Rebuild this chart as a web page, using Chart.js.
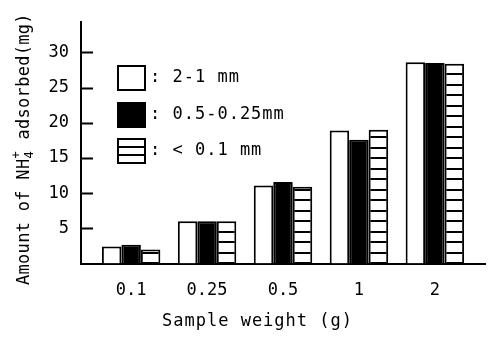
<!DOCTYPE html>
<html>
<head>
<meta charset="utf-8">
<script src="https://cdn.jsdelivr.net/npm/chart.js@4"></script>
<style>
  html, body { margin: 0; padding: 0; background: #fff; }
  #wrap { width: 489px; height: 345px; position: relative; }
</style>
</head>
<body>
<div id="wrap"><canvas id="chart"></canvas></div>
<script>
// ─── data ───────────────────────────────────────────
const categories = ['0.1', '0.25', '0.5', '1', '2'];
const seriesNames = ['2-1 mm', '0.5-0.25mm', '< 0.1 mm'];
const coarse = [2.4, 6.0, 11.1, 18.9, 28.6];   // 2-1 mm
const medium = [2.65, 6.0, 11.6, 17.6, 28.5];  // 0.5-0.25 mm
const fine   = [2.0, 6.0, 10.9, 19.0, 28.4];   // < 0.1 mm
const yTicks = [5, 10, 15, 20, 25, 30];

const FONT = "'DejaVu Sans Mono', 'Liberation Mono', monospace";

// horizontal stripe fill
function stripes() {
  const c = document.createElement('canvas');
  c.width = 8; c.height = 21;
  const g = c.getContext('2d');
  g.fillStyle = '#fff'; g.fillRect(0, 0, 8, 21);
  g.fillStyle = '#000';
  g.fillRect(0, 0, 8, 2);
  g.fillRect(0, 10, 8, 2);
  return g.createPattern(c, 'repeat');
}
const stripeFill = stripes();

const toPts = arr => arr.map((v, i) => ({ x: i, y: v }));

// ─── extras: inner ticks, axis titles, legend ──────
const extras = {
  id: 'extras',
  afterDraw(chart) {
    const ctx = chart.ctx;
    const ys = chart.scales.y;
    const left = chart.chartArea.left;
    ctx.save();
    ctx.strokeStyle = '#000';
    ctx.lineWidth = 2;
    yTicks.forEach(v => {
      const py = Math.round(ys.getPixelForValue(v)) + 0.5;
      ctx.beginPath();
      ctx.moveTo(left, py);
      ctx.lineTo(left + 12, py);
      ctx.stroke();
    });

    ctx.fillStyle = '#000';
    ctx.textBaseline = 'middle';
    ctx.textAlign = 'left';

    // x title
    ctx.letterSpacing = '1px';
    ctx.font = '17px ' + FONT;
    ctx.fillText('Sample weight (g)', 162, 322);

    // y title with NH4+
    ctx.save();
    ctx.letterSpacing = '0.3px';
    ctx.translate(25, 285);
    ctx.rotate(-Math.PI / 2);
    ctx.font = '17px ' + FONT;
    const a = 'Amount of NH';
    ctx.fillText(a, 0, 0);
    let w = ctx.measureText(a).width;
    ctx.font = '12px ' + FONT;
    ctx.fillText('4', w, 5);
    ctx.fillText('+', w, -8);
    w += ctx.measureText('4').width + 1;
    ctx.font = '17px ' + FONT;
    ctx.fillText(' adsorbed(mg)', w, 0);
    ctx.restore();

    // legend
    ctx.letterSpacing = '1px';
    const boxes = [66, 103, 139];
    ctx.lineWidth = 2;
    boxes.forEach((by, i) => {
      const bx = 118, bw = 27, bh = 24;
      ctx.fillStyle = i === 1 ? '#000' : '#fff';
      ctx.fillRect(bx, by, bw, bh);
      ctx.strokeRect(bx, by, bw, bh);
      if (i === 2) {
        ctx.beginPath();
        ctx.moveTo(bx, by + 8); ctx.lineTo(bx + bw, by + 8);
        ctx.moveTo(bx, by + 16); ctx.lineTo(bx + bw, by + 16);
        ctx.stroke();
      }
      ctx.fillStyle = '#000';
      ctx.font = '17px ' + FONT;
      ctx.fillText(': ' + seriesNames[i], 150, by + 12);
    });
    ctx.restore();
  }
};

const ds = (label, arr, fill) => ({
  label,
  data: toPts(arr),
  backgroundColor: fill,
  borderColor: '#000',
  borderWidth: 2,
  categoryPercentage: 0.77,
  barPercentage: 1.0,
});

new Chart(document.getElementById('chart'), {
  type: 'bar',
  data: {
    datasets: [
      ds(seriesNames[0], coarse, '#fff'),
      ds(seriesNames[1], medium, '#000'),
      ds(seriesNames[2], fine, stripeFill),
    ]
  },
  options: {
    responsive: true,
    maintainAspectRatio: false,
    animation: false,
    layout: { padding: { top: 12, right: 4, left: 0, bottom: 0 } },
    plugins: { legend: { display: false }, tooltip: { enabled: false } },
    scales: {
      x: {
        type: 'linear',
        offset: false,
        min: -0.66, max: 4.66,
        afterBuildTicks: s => { s.ticks = categories.map((c, i) => ({ value: i })); },
        afterFit: s => { s.height = 81.5; },
        grid: { display: false, drawTicks: false, offset: false },
        border: { display: true, color: '#000', width: 2 },
        ticks: {
          padding: 17,
          color: '#000',
          font: { family: FONT, size: 17 },
          maxRotation: 0,
          callback: v => categories[v],
        },
      },
      y: {
        min: 0, max: 34.3,
        afterBuildTicks: s => { s.ticks = yTicks.map(v => ({ value: v })); },
        afterFit: s => { s.width = 81; },
        grid: { display: false, drawTicks: false },
        border: { display: true, color: '#000', width: 2 },
        ticks: {
          padding: 12,
          color: '#000',
          font: { family: FONT, size: 17 },
        },
      },
    },
  },
  plugins: [extras],
});
</script>
</body>
</html>
